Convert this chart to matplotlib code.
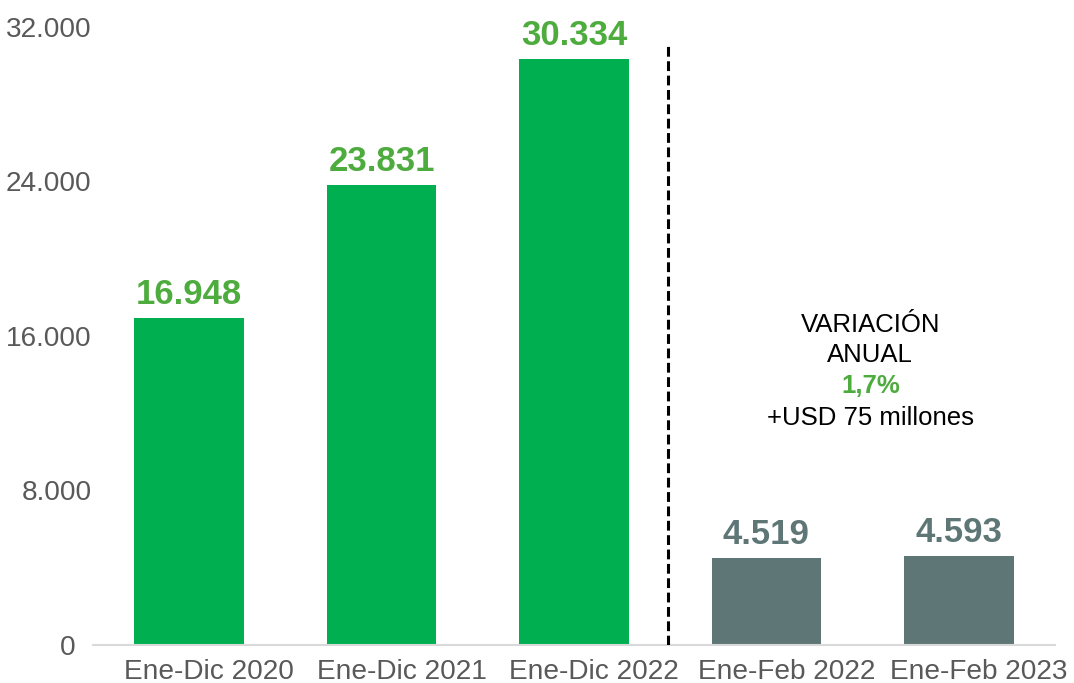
import matplotlib
matplotlib.use("Agg")
import matplotlib.pyplot as plt
import matplotlib.transforms as mtransforms
from matplotlib.ticker import FuncFormatter

plt.rcParams['font.family'] = ['Liberation Sans', 'DejaVu Sans']

categories = ["Ene-Dic 2020", "Ene-Dic 2021", "Ene-Dic 2022", "Ene-Feb 2022", "Ene-Feb 2023"]
values = [16948, 23831, 30334, 4519, 4593]
yticks = [0, 8000, 16000, 24000, 32000]
note_lines = ["VARIACIÓN", "ANUAL", "1,7%", "+USD 75 millones"]

bar_colors = ["#00B050", "#00B050", "#00B050", "#5F7676", "#5F7676"]
label_colors = ["#4EAC3E", "#4EAC3E", "#4EAC3E", "#5F7676", "#5F7676"]


def miles(v, pos=None):
    return f"{int(round(v)):,}".replace(",", ".")


def eje_y(v, pos=None):
    # el cero lleva un espacio de cifra al final, como en el formato original
    s = miles(v)
    return s + "\u2007" if v == 0 else s


fig = plt.figure(figsize=(10.74, 6.83), dpi=100)
ax = fig.add_axes([0.0866, 0.0556, 0.8957, 0.905])

x = list(range(len(categories)))
ax.bar(x, values, width=0.57, color=bar_colors, zorder=2)

for xi, v, c in zip(x, values, label_colors):
    ax.annotate(miles(v), (xi, v), xytext=(0, 5), textcoords="offset points",
                ha="center", va="bottom", fontsize=25, fontweight="bold", color=c)

# separador entre periodos anuales y acumulado del año
ax.plot([2.49, 2.49], [0, 31100], ls=(0, (3.2, 1.5)), color="black", lw=2.2, zorder=3)

# nota de variación
note_y = [16570, 15016, 13411, 11754]
note_style = [("normal", "black"), ("normal", "black"),
              ("bold", "#4EAC3E"), ("normal", "black")]
for txt, yy, (fw, col) in zip(note_lines, note_y, note_style):
    ax.text(3.54, yy, txt, ha="center", va="center",
            fontsize=18.5, fontweight=fw, color=col)

ax.set_xlim(-0.5, 4.5)
ax.set_ylim(0, 32000)
ax.set_yticks(yticks)
ax.yaxis.set_major_formatter(FuncFormatter(eje_y))
ax.set_xticks(x)
ax.set_xticklabels(categories)
ax.tick_params(axis="both", length=0, labelsize=20.2, colors="#595959")
ax.tick_params(axis="x", pad=10)
ax.tick_params(axis="y", pad=1)

# etiquetas de categoría desplazadas un poco a la derecha
shift = mtransforms.ScaledTranslation(20 / 100, 0, fig.dpi_scale_trans)
for lbl in ax.get_xticklabels():
    lbl.set_transform(lbl.get_transform() + shift)

for side in ["top", "right", "left"]:
    ax.spines[side].set_visible(False)
ax.spines["bottom"].set_color("#D9D9D9")
ax.spines["bottom"].set_linewidth(1.5)

fig.savefig("out.png", dpi=100)
